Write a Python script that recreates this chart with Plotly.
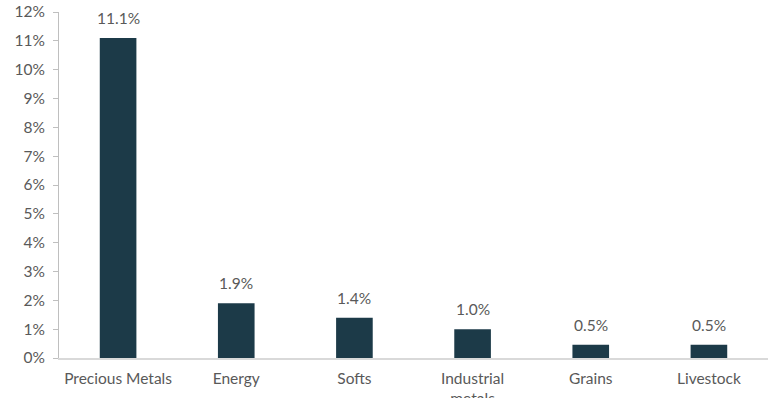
import plotly.graph_objects as go

categories = ["Precious Metals", "Energy", "Softs", "Industrial<br>metals", "Grains", "Livestock"]
values = [11.1, 1.9, 1.4, 1.0, 0.46, 0.46]
labels = ["11.1%", "1.9%", "1.4%", "1.0%", "0.5%", "0.5%"]
y_ticks = list(range(0, 13))
y_tick_text = [f"{t}%" for t in y_ticks]

FONT = "Lato, 'Noto Sans', sans-serif"
GREY = "#595959"
FS = 15.5

fig = go.Figure(go.Bar(x=categories, y=values, marker_color="#1c3a48",
                       marker_line_width=0, width=0.31))

for c, v, t in zip(categories, values, labels):
    fig.add_annotation(x=c, y=v, text=t, showarrow=False, yanchor="bottom",
                       yshift=9, font=dict(family=FONT, size=FS, color=GREY))

fig.update_layout(
    width=770, height=398, margin=dict(l=59, r=2, t=12, b=40),
    plot_bgcolor="white", paper_bgcolor="white", showlegend=False,
    font=dict(family=FONT, size=FS, color=GREY),
)
fig.update_yaxes(range=[0, 12], tickvals=y_ticks, ticktext=y_tick_text, automargin=False,
                 showgrid=False, zeroline=False, showline=True, linecolor="#bfbfbf",
                 linewidth=1, ticks="outside", ticklen=5, tickcolor="#bfbfbf",
                 ticklabelstandoff=5, tickfont=dict(size=FS, color=GREY))
fig.update_xaxes(showgrid=False, showline=True, linecolor="#d9d9d9", linewidth=2,
                 automargin=False, ticks="", ticklabelstandoff=5,
                 tickfont=dict(size=FS, color=GREY))

fig.write_html("out.html")
